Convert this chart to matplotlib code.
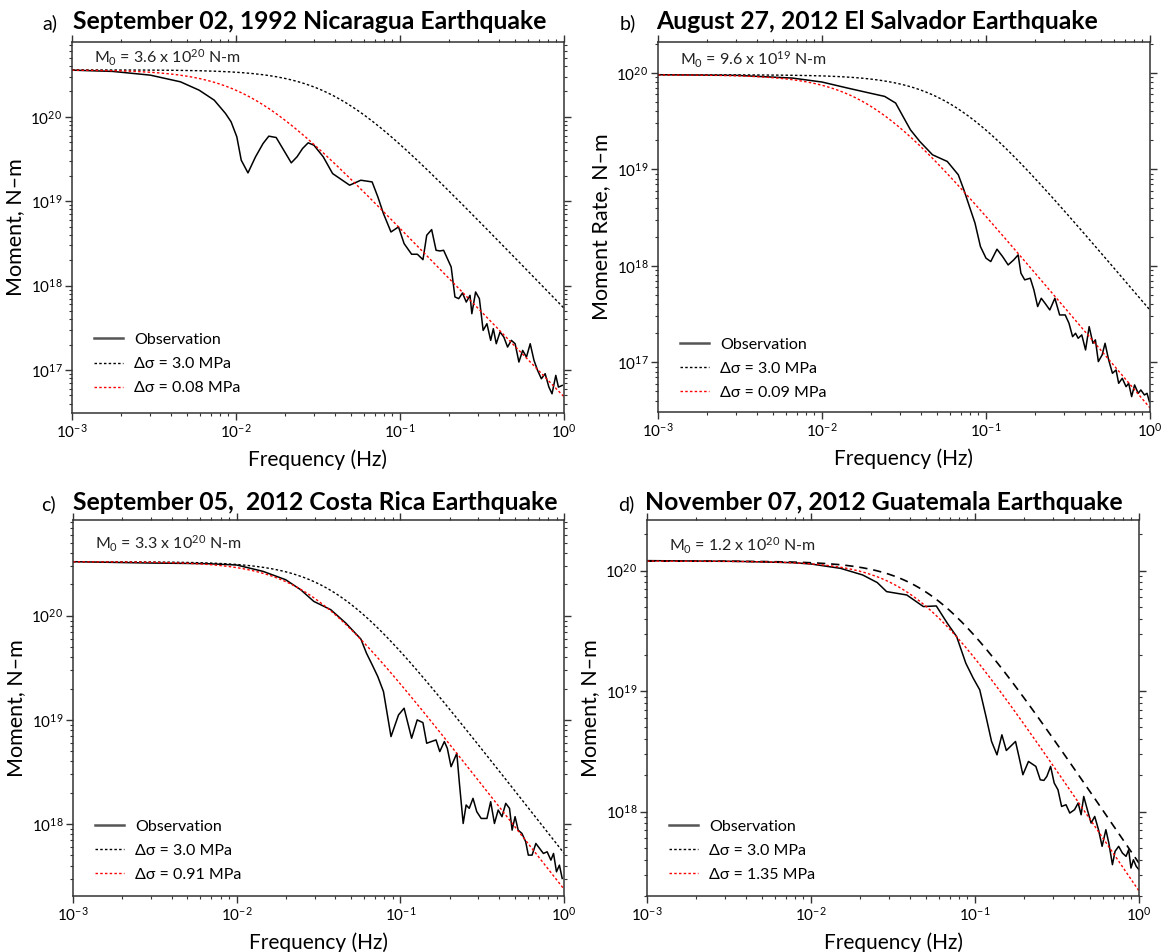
import numpy as np
import matplotlib
matplotlib.use('Agg')
import matplotlib.pyplot as plt
from matplotlib.lines import Line2D
from matplotlib.ticker import LogLocator, NullFormatter

plt.rcParams['font.family'] = ['Lato', 'DejaVu Sans']
plt.rcParams['mathtext.fontset'] = 'custom'
plt.rcParams['mathtext.rm'] = 'Lato'
plt.rcParams['mathtext.it'] = 'Lato'
plt.rcParams['mathtext.bf'] = 'Lato:bold'

# event info
titles = ['September 02, 1992 Nicaragua Earthquake',
          'August 27, 2012 El Salvador Earthquake',
          'September 05,  2012 Costa Rica Earthquake',
          'November 07, 2012 Guatemala Earthquake']
tags = ['a)', 'b)', 'c)', 'd)']
ylabels = ['Moment, N\u2013m', 'Moment Rate, N\u2013m', 'Moment, N\u2013m', 'Moment, N\u2013m']
m0_mant = [3.6, 9.6, 3.3, 1.2]
m0_exp = [20, 19, 20, 20]
ref_stress = [3.0, 3.0, 3.0, 3.0]      # MPa
fit_stress = [0.08, 0.09, 0.91, 1.35]  # MPa
beta = 3900.0                          # shear velocity, m/s

# observed source spectra (log10 Hz, log10 N-m)
nic_logf = [-3.000, -2.752, -2.523, -2.339, -2.225, -2.133, -2.064, -2.030, -1.995, -1.968,
            -1.927, -1.881, -1.835, -1.800, -1.755, -1.709, -1.663, -1.628, -1.594, -1.560,
            -1.525, -1.468, -1.411, -1.307, -1.239, -1.170, -1.135, -1.101, -1.055, -1.009,
            -0.975, -0.929, -0.894, -0.860, -0.837, -0.807, -0.780, -0.757, -0.734, -0.688,
            -0.665, -0.642, -0.619, -0.596, -0.573, -0.562, -0.539, -0.516, -0.493, -0.470,
            -0.447, -0.431, -0.413, -0.390, -0.367, -0.344, -0.321, -0.298, -0.275, -0.252,
            -0.229, -0.206, -0.183, -0.161, -0.138, -0.115, -0.092, -0.073, -0.050, -0.034,
            -0.011]
nic_logm = [20.553, 20.538, 20.494, 20.415, 20.316, 20.198, 20.040, 19.941, 19.763, 19.486,
            19.336, 19.526, 19.684, 19.771, 19.755, 19.605, 19.455, 19.526, 19.625, 19.692,
            19.664, 19.526, 19.328, 19.190, 19.249, 19.229, 19.051, 18.854, 18.636, 18.696,
            18.498, 18.372, 18.372, 18.308, 18.597, 18.664, 18.419, 18.411, 18.419, 18.221,
            17.866, 17.846, 17.913, 17.806, 17.885, 17.668, 17.925, 17.846, 17.470, 17.549,
            17.352, 17.490, 17.312, 17.451, 17.391, 17.273, 17.352, 17.312, 17.095, 17.233,
            17.154, 17.312, 17.115, 16.996, 16.897, 16.957, 16.798, 16.719, 16.937, 16.798,
            16.818]

sal_logf = [-3.000, -2.517, -2.180, -2.000, -1.843, -1.708, -1.618, -1.551, -1.506, -1.461,
            -1.404, -1.326, -1.236, -1.169, -1.135, -1.101, -1.067, -1.034, -1.000, -0.971,
            -0.933, -0.899, -0.865, -0.831, -0.804, -0.787, -0.764, -0.730, -0.708, -0.685,
            -0.663, -0.640, -0.611, -0.580, -0.551, -0.517, -0.494, -0.472, -0.454, -0.438,
            -0.416, -0.393, -0.371, -0.348, -0.333, -0.315, -0.292, -0.274, -0.252, -0.229,
            -0.207, -0.191, -0.169, -0.146, -0.130, -0.112, -0.094, -0.072, -0.056, -0.034,
            -0.018, -0.004]
sal_logm = [19.983, 19.976, 19.948, 19.907, 19.844, 19.792, 19.758, 19.689, 19.550, 19.412,
            19.291, 19.152, 19.083, 18.945, 18.789, 18.616, 18.443, 18.201, 18.080, 18.045,
            18.173, 18.097, 18.010, 18.062, 18.114, 17.924, 17.855, 17.872, 17.751, 17.578,
            17.664, 17.612, 17.543, 17.664, 17.491, 17.491, 17.405, 17.266, 17.301, 17.249,
            17.284, 17.128, 17.370, 17.197, 17.232, 17.007, 17.076, 17.197, 17.024, 16.886,
            16.920, 16.782, 16.834, 16.747, 16.782, 16.644, 16.765, 16.678, 16.713, 16.661,
            16.678, 16.592]

cri_logf = [-3.000, -2.529, -2.184, -2.000, -1.839, -1.701, -1.609, -1.529, -1.425, -1.333,
            -1.241, -1.207, -1.172, -1.138, -1.103, -1.057, -1.011, -0.977, -0.931, -0.897,
            -0.862, -0.839, -0.782, -0.759, -0.731, -0.713, -0.690, -0.655, -0.639, -0.616,
            -0.598, -0.579, -0.556, -0.533, -0.506, -0.471, -0.448, -0.425, -0.402, -0.379,
            -0.356, -0.333, -0.317, -0.299, -0.280, -0.257, -0.234, -0.218, -0.195, -0.172,
            -0.149, -0.126, -0.103, -0.080, -0.064, -0.046, -0.028, -0.011]
cri_logm = [20.519, 20.506, 20.500, 20.487, 20.426, 20.346, 20.250, 20.138, 20.058, 19.929,
            19.776, 19.641, 19.529, 19.417, 19.272, 18.840, 19.048, 19.112, 18.824, 19.000,
            18.974, 18.776, 18.808, 18.696, 18.792, 18.728, 18.551, 18.679, 18.391, 18.006,
            18.183, 18.151, 18.247, 18.119, 18.054, 18.054, 18.215, 18.006, 18.135, 18.071,
            18.199, 18.151, 17.942, 18.071, 17.942, 17.910, 17.830, 17.702, 17.702, 17.814,
            17.766, 17.718, 17.734, 17.654, 17.718, 17.542, 17.606, 17.478]

gua_logf = [-3.000, -2.449, -2.112, -2.000, -1.820, -1.685, -1.596, -1.539, -1.416, -1.315,
            -1.236, -1.169, -1.112, -1.056, -1.011, -0.971, -0.933, -0.899, -0.866, -0.836,
            -0.809, -0.753, -0.730, -0.708, -0.674, -0.629, -0.602, -0.580, -0.562, -0.539,
            -0.517, -0.494, -0.472, -0.445, -0.422, -0.393, -0.371, -0.353, -0.337, -0.315,
            -0.292, -0.270, -0.247, -0.225, -0.202, -0.184, -0.162, -0.146, -0.124, -0.101,
            -0.079, -0.063, -0.049, -0.034, -0.017, 0.000]
gua_logm = [20.083, 20.077, 20.066, 20.055, 20.019, 19.964, 19.901, 19.826, 19.798, 19.702,
            19.707, 19.564, 19.453, 19.232, 19.108, 19.011, 18.790, 18.583, 18.472, 18.638,
            18.508, 18.583, 18.445, 18.307, 18.417, 18.376, 18.265, 18.260, 18.293, 18.376,
            18.238, 18.182, 18.044, 18.058, 17.989, 18.017, 18.072, 17.975, 18.127, 18.017,
            17.906, 17.961, 17.851, 17.713, 17.851, 17.740, 17.561, 17.671, 17.713, 17.657,
            17.630, 17.685, 17.533, 17.602, 17.547, 17.519]

obs = [(nic_logf, nic_logm), (sal_logf, sal_logm), (cri_logf, cri_logm), (gua_logf, gua_logm)]

ylims = [(3.1e16, 7.7e20), (3.05e16, 2.1e20), (2.04e17, 8.3e20), (2.0e17, 2.63e20)]


def brune(freq, m0, stress_mpa):
    # omega-squared source spectrum, corner from Brune (1970)
    fc = 0.4906 * beta * (stress_mpa * 1e6 / m0) ** (1.0 / 3.0)
    return m0 / (1.0 + (freq / fc) ** 2)


W, H = 1168, 952
fig = plt.figure(figsize=(W / 100, H / 100), dpi=100)

# axes boxes in pixels: left, top, right, bottom
boxes = [(72, 42, 564, 413), (658, 42, 1150, 412),
         (73, 520, 564, 896), (647, 520, 1139, 896)]
tag_x = [42, 620, 41, 618]
title_x = [73, 656, 73, 645]
title_base = [29, 29, 510, 510]
legend_y = [0.048, 0.033, 0.037, 0.037]
m0_y = [0.957, 0.951, 0.937, 0.93]

freq = np.logspace(-3, 0, 400)
dots = (0, (1.8, 1.6))

for i in range(4):
    l, t, r, b = boxes[i]
    ax = fig.add_axes([l / W, 1 - b / H, (r - l) / W, (b - t) / H])

    m0 = m0_mant[i] * 10.0 ** m0_exp[i]
    logf, logm = obs[i]
    ax.plot(10 ** np.array(logf), 10 ** np.array(logm), color='black', lw=1.1)

    # Guatemala reference curve is dashed in the figure, dotted elsewhere
    ref_ls = (0, (5, 3.5)) if i == 3 else dots
    ref_lw = 1.2 if i == 3 else 1.0
    ax.plot(freq, brune(freq, m0, ref_stress[i]), color='black', lw=ref_lw, ls=ref_ls)
    ax.plot(freq, brune(freq, m0, fit_stress[i]), color='red', lw=1.0, ls=dots)

    ax.set_xscale('log')
    ax.set_yscale('log')
    ax.set_xlim(1e-3, 1)
    ax.set_ylim(*ylims[i])
    ax.xaxis.set_major_locator(LogLocator(base=10, numticks=10))
    ax.xaxis.set_minor_locator(LogLocator(base=10, subs=np.arange(2, 10), numticks=20))
    ax.yaxis.set_minor_locator(LogLocator(base=10, subs=np.arange(2, 10), numticks=20))
    ax.xaxis.set_minor_formatter(NullFormatter())
    ax.yaxis.set_minor_formatter(NullFormatter())
    ax.tick_params(which='both', direction='out', top=True, right=True,
                   color='#333333', labelsize=11, pad=2)
    ax.tick_params(which='major', length=5, width=1.0)
    ax.tick_params(which='minor', length=2.5, width=0.8)
    for sp in ax.spines.values():
        sp.set_color('#333333')
        sp.set_linewidth(1.1)

    ax.set_xlabel('Frequency (Hz)', fontsize=15, labelpad=6)
    ax.set_ylabel(ylabels[i], fontsize=15.5, labelpad=4)

    ax.text(0.045, m0_y[i], 'M$_0$ = %.1f x 10$^{%d}$ N-m' % (m0_mant[i], m0_exp[i]),
            transform=ax.transAxes, fontsize=11.5, va='center', ha='left', color='#222222')

    handles = [Line2D([], [], color='#555555', lw=1.8),
               Line2D([], [], color='black', lw=1.0, ls=dots),
               Line2D([], [], color='red', lw=1.0, ls=dots)]
    labels = ['Observation',
              '\u0394\u03c3 = %.1f MPa' % ref_stress[i],
              '\u0394\u03c3 = %.2f MPa' % fit_stress[i]]
    ax.legend(handles, labels, loc='lower left', bbox_to_anchor=(0.045, legend_y[i]),
              frameon=False, fontsize=11.5, handlelength=1.8, handletextpad=0.7,
              labelspacing=0.62, borderpad=0, borderaxespad=0)

    fig.text(tag_x[i] / W, 1 - title_base[i] / H, tags[i], fontsize=14,
             ha='left', va='baseline')
    fig.text(title_x[i] / W, 1 - title_base[i] / H, titles[i], fontsize=17.8,
             fontweight='bold', ha='left', va='baseline')

fig.savefig('out.png', dpi=100)
